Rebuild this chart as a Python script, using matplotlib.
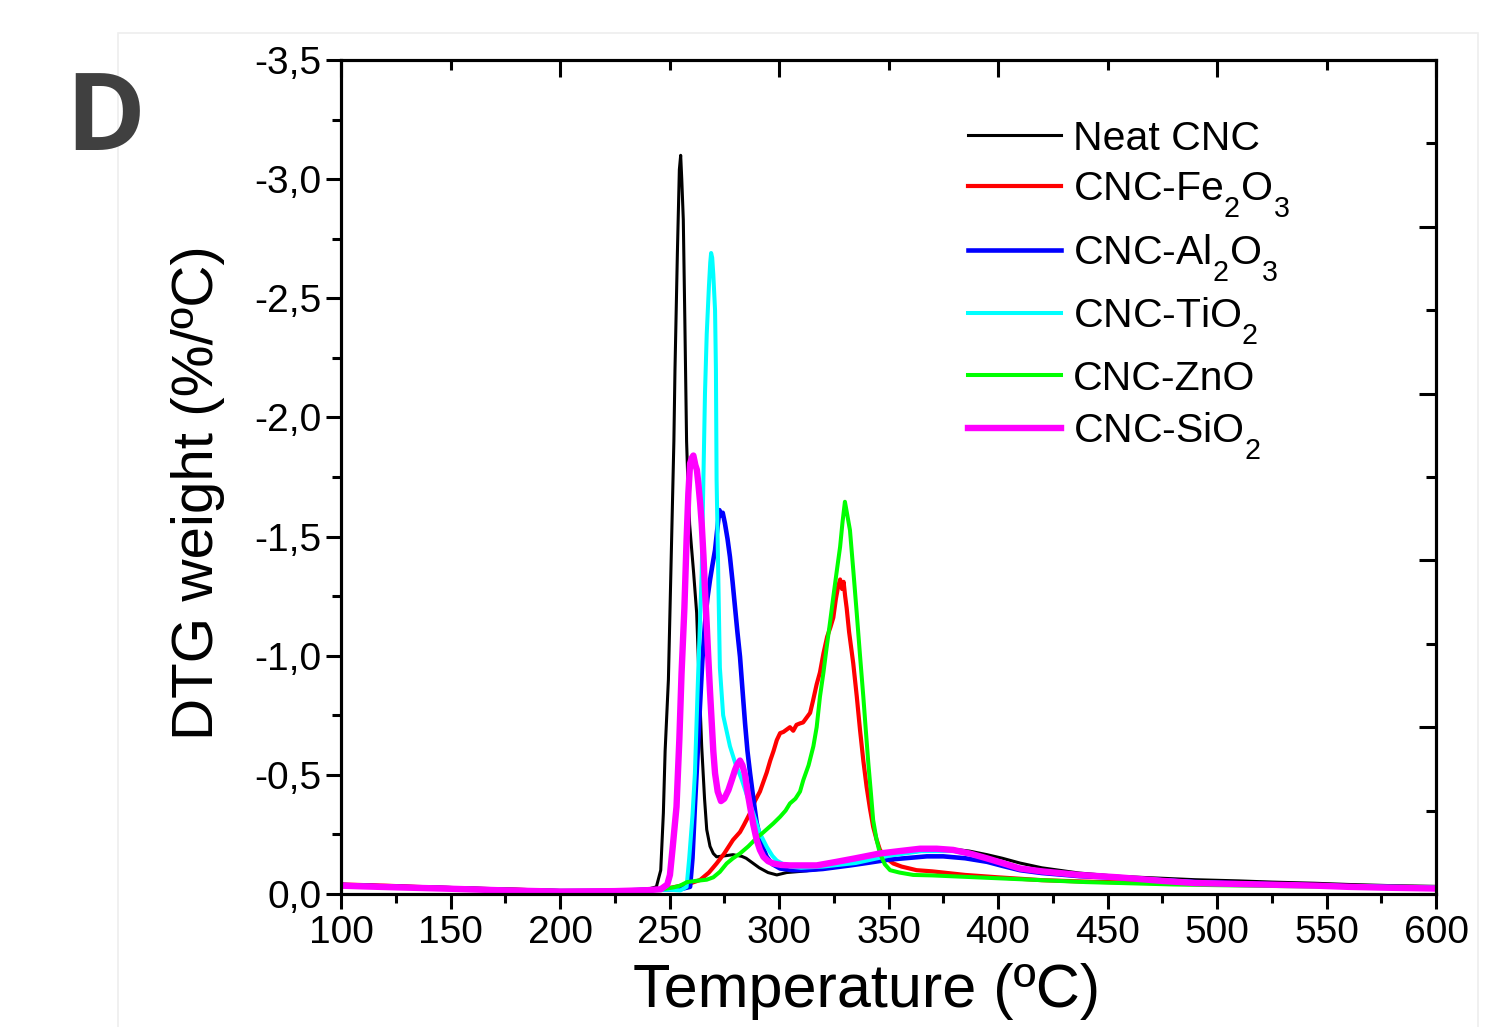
import matplotlib
matplotlib.use("Agg")
import matplotlib.pyplot as plt
import matplotlib._mathtext as _mathtext
from matplotlib.ticker import MultipleLocator, FixedLocator
from matplotlib.patches import Rectangle

plt.rcParams['font.family'] = ['Liberation Sans', 'DejaVu Sans']
plt.rcParams['mathtext.fontset'] = 'custom'
plt.rcParams['mathtext.rm'] = 'Liberation Sans'
plt.rcParams['mathtext.it'] = 'Liberation Sans:italic'
plt.rcParams['mathtext.bf'] = 'Liberation Sans:bold'
# deeper chemical-formula subscripts
_mathtext.FontConstantsBase.sub1 = 0.8
_mathtext.FontConstantsBase.sub2 = 0.9

# ---- data: DTG curves (temperature in ºC, DTG weight in %/ºC) ----
temp_neat = [100, 120, 140, 160, 180, 200, 220, 240, 244, 246, 247.2, 248, 249.5, 251, 252,
             252.5, 253.6, 254.5, 255.1, 255.6, 256.3, 257, 257.8, 258.5, 259.2, 260, 261,
             262.4, 263.5, 264.7, 266, 267, 268.5, 270, 271.5, 275, 279, 283, 285, 288, 291,
             295, 299, 303.5, 310, 320, 330, 340, 350, 360, 370, 378, 387, 395, 402, 410, 420,
             437, 455, 475, 490, 510, 525, 545, 560, 580, 600]
dtg_neat = [-0.04, -0.035, -0.03, -0.025, -0.02, -0.015, -0.015, -0.02, -0.03, -0.1, -0.34, -0.6,
            -0.9, -1.5, -1.9, -2.2, -2.69, -3.04, -3.10, -3.0, -2.83, -2.41, -1.9, -1.7, -1.55,
            -1.46, -1.35, -1.18, -0.9, -0.62, -0.4, -0.27, -0.2, -0.17, -0.156, -0.16, -0.165,
            -0.158, -0.15, -0.13, -0.11, -0.09, -0.08, -0.09, -0.095, -0.105, -0.12, -0.14, -0.16,
            -0.175, -0.185, -0.19, -0.18, -0.165, -0.15, -0.13, -0.11, -0.088, -0.074, -0.066,
            -0.06, -0.055, -0.05, -0.045, -0.04, -0.035, -0.032]

temp_fe = [100, 120, 140, 160, 180, 200, 220, 240, 250, 258, 264, 268, 271.5, 275, 279, 282.2,
           284, 286.8, 289, 291.3, 294.4, 296, 297.5, 299, 300.5, 302, 303.5, 305, 306.5, 308,
           309.6, 311, 312.6, 314.2, 315.5, 317.2, 318.7, 320.3, 322, 323.5, 324.8, 326, 327,
           327.9, 328.8, 329.5, 330.2, 330.9, 332, 333.9, 335.5, 337, 338.5, 340, 341.5, 343,
           344.5, 346.1, 349, 352.2, 356, 362.8, 370, 385, 400, 420, 440, 460, 480, 500, 520,
           540, 560, 580, 600]
dtg_fe = [-0.04, -0.035, -0.028, -0.022, -0.018, -0.012, -0.012, -0.016, -0.025, -0.04, -0.059,
          -0.09, -0.128, -0.17, -0.227, -0.26, -0.29, -0.34, -0.39, -0.43, -0.51, -0.56, -0.6,
          -0.646, -0.675, -0.68, -0.69, -0.70, -0.685, -0.71, -0.716, -0.72, -0.74, -0.76,
          -0.81, -0.88, -0.93, -1.01, -1.08, -1.12, -1.16, -1.24, -1.29, -1.32, -1.28, -1.31,
          -1.25, -1.2, -1.1, -0.968, -0.83, -0.688, -0.56, -0.45, -0.36, -0.282, -0.23, -0.185,
          -0.15, -0.128, -0.115, -0.1, -0.095, -0.08, -0.07, -0.058, -0.052, -0.048, -0.044,
          -0.042, -0.04, -0.038, -0.034, -0.03, -0.028]

temp_al = [100, 125, 150, 175, 200, 225, 240, 255, 259.4, 260.5, 261.6, 262.8, 263.9, 265,
           266.2, 267.3, 268.5, 269.6, 270.8, 271.8, 272.8, 273.6, 274.3, 275.3, 276.5, 277.6,
           278.8, 279.9, 281, 282.2, 283.3, 284.5, 285.6, 286.8, 288.3, 289.8, 292, 294.4, 297,
           300.5, 306, 312.6, 320, 332.5, 340, 350, 360, 367.5, 375, 385, 395, 402, 410, 420,
           437, 455, 470, 490, 510, 530, 550, 575, 600]
dtg_al = [-0.038, -0.03, -0.024, -0.017, -0.012, -0.013, -0.018, -0.02, -0.03, -0.15, -0.366,
          -0.58, -0.786, -0.98, -1.136, -1.24, -1.318, -1.38, -1.444, -1.53, -1.611, -1.59,
          -1.6, -1.556, -1.49, -1.415, -1.31, -1.205, -1.1, -0.995, -0.86, -0.716, -0.6, -0.506,
          -0.4, -0.3, -0.21, -0.156, -0.125, -0.107, -0.1, -0.1, -0.105, -0.12, -0.13, -0.144,
          -0.152, -0.158, -0.158, -0.15, -0.135, -0.118, -0.1, -0.088, -0.075, -0.068, -0.06,
          -0.05, -0.045, -0.04, -0.035, -0.03, -0.026]

temp_ti = [100, 125, 150, 175, 200, 225, 240, 250, 255, 257.8, 259, 260.5, 261.6, 263, 264.7,
           265.5, 266.2, 267, 268, 268.6, 269, 269.5, 270, 270.8, 271.2, 271.5, 272.3, 273,
           274.5, 277.6, 280, 283, 285.5, 288.3, 291, 294.4, 297, 299, 302, 305, 310, 320, 335,
           350, 365, 380, 395, 410, 430, 455, 490, 525, 560, 600]
dtg_ti = [-0.038, -0.03, -0.024, -0.017, -0.012, -0.013, -0.017, -0.018, -0.015, -0.03, -0.15,
          -0.33, -0.506, -0.9, -1.345, -1.75, -2.1, -2.35, -2.55, -2.65, -2.69, -2.67, -2.6,
          -2.45, -2.2, -1.74, -1.32, -0.95, -0.75, -0.62, -0.55, -0.48, -0.41, -0.338, -0.26,
          -0.198, -0.16, -0.14, -0.125, -0.115, -0.11, -0.115, -0.13, -0.16, -0.18, -0.18,
          -0.15, -0.11, -0.085, -0.07, -0.05, -0.04, -0.033, -0.028]

temp_zn = [100, 125, 150, 175, 200, 225, 240, 248, 252, 254.8, 258, 262, 267, 270, 273, 276.1,
           279, 282.2, 286, 289.8, 293, 297.4, 300.5, 303, 305, 307.5, 309.6, 311.1, 313.5,
           315.7, 317.2, 318.7, 320.3, 321.8, 323.3, 324.8, 326.3, 327.9, 329, 330.1, 331,
           332.4, 334, 335.5, 337, 338.5, 339.7, 340.8, 342, 343, 344.5, 346.1, 348.3, 350.7,
           355, 361.3, 370, 385, 400, 420, 440, 460, 480, 500, 530, 560, 600]
dtg_zn = [-0.038, -0.03, -0.024, -0.018, -0.012, -0.013, -0.018, -0.022, -0.028, -0.035, -0.05,
          -0.055, -0.06, -0.07, -0.093, -0.128, -0.15, -0.17, -0.2, -0.235, -0.26, -0.296,
          -0.324, -0.35, -0.38, -0.4, -0.43, -0.478, -0.54, -0.62, -0.7, -0.828, -0.93, -1.038,
          -1.14, -1.247, -1.35, -1.457, -1.56, -1.646, -1.6, -1.527, -1.35, -1.178, -1.0,
          -0.828, -0.68, -0.548, -0.42, -0.31, -0.23, -0.17, -0.125, -0.1, -0.09, -0.08,
          -0.078, -0.072, -0.066, -0.058, -0.05, -0.045, -0.04, -0.037, -0.033, -0.03, -0.026]

temp_si = [100, 110, 125, 150, 175, 200, 225, 240, 246, 249, 250.2, 251.5, 253.2, 254.5, 255.5,
           256.8, 257.8, 258.6, 259.4, 260.2, 260.9, 261.8, 262.5, 263.2, 264, 264.7, 265.5,
           266.2, 267, 267.7, 268.5, 269.3, 270, 270.8, 272, 273.5, 275, 276.9, 278.5, 279.9,
           281, 282.2, 283.3, 284.5, 285.6, 286.8, 288.3, 289.8, 291.3, 292.9, 295, 297.4, 301,
           305, 310, 317.2, 326.3, 335, 346, 355, 364.4, 372, 379.5, 387, 394.8, 402, 410, 420,
           437, 455, 475, 490, 510, 525, 545, 560, 580, 600]
dtg_si = [-0.035, -0.032, -0.028, -0.022, -0.015, -0.01, -0.012, -0.016, -0.02, -0.04, -0.08,
          -0.2, -0.366, -0.65, -0.926, -1.2, -1.486, -1.68, -1.807, -1.83, -1.84, -1.8, -1.78,
          -1.72, -1.64, -1.555, -1.42, -1.276, -1.13, -0.995, -0.85, -0.716, -0.6, -0.506,
          -0.43, -0.39, -0.4, -0.436, -0.48, -0.52, -0.545, -0.56, -0.54, -0.5, -0.43, -0.366,
          -0.29, -0.227, -0.185, -0.156, -0.138, -0.128, -0.122, -0.12, -0.12, -0.12, -0.135,
          -0.15, -0.17, -0.18, -0.19, -0.19, -0.185, -0.17, -0.15, -0.13, -0.107, -0.095,
          -0.08, -0.07, -0.055, -0.046, -0.042, -0.039, -0.035, -0.03, -0.026, -0.023]

series_labels = ['Neat CNC', r'CNC-Fe$_2$O$_3$', r'CNC-Al$_2$O$_3$', r'CNC-TiO$_2$',
                 'CNC-ZnO', r'CNC-SiO$_2$']
series_colors = ['#000000', '#ff0000', '#0000ff', '#00ffff', '#00ff00', '#ff00ff']
series_widths = [2.2, 3.0, 3.3, 2.9, 2.9, 4.6]

x_ticks = [100, 150, 200, 250, 300, 350, 400, 450, 500, 550, 600]
x_tick_labels = ['100', '150', '200', '250', '300', '350', '400', '450', '500', '550', '600']
y_ticks = [0.0, -0.5, -1.0, -1.5, -2.0, -2.5, -3.0, -3.5]
y_tick_labels = ['0,0', '-0,5', '-1,0', '-1,5', '-2,0', '-2,5', '-3,0', '-3,5']

# ---- figure ----
fig = plt.figure(figsize=(15.06, 10.27), dpi=100)
W, H = 1506, 1027
ax = fig.add_axes([341 / W, 1 - 894 / H, (1436 - 341) / W, (894 - 60) / H])

# faint panel outline
fig.patches.append(Rectangle((118 / W, -0.05), (1478 - 118) / W, 1.05 - 33 / H,
                             transform=fig.transFigure, fill=False,
                             edgecolor='#eeeeee', linewidth=1.2, zorder=0))

curves = [(temp_neat, dtg_neat), (temp_fe, dtg_fe), (temp_al, dtg_al),
          (temp_ti, dtg_ti), (temp_zn, dtg_zn), (temp_si, dtg_si)]
for (t, d), lab, col, lw in zip(curves, series_labels, series_colors, series_widths):
    ax.plot(t, d, color=col, lw=lw, label=lab, solid_joinstyle='round')

ax.set_xlim(100, 600)
ax.set_ylim(0, -3.5)

ax.xaxis.set_major_locator(FixedLocator(x_ticks))
ax.set_xticklabels(x_tick_labels)
ax.xaxis.set_minor_locator(MultipleLocator(25))
ax.yaxis.set_major_locator(FixedLocator(y_ticks))
ax.set_yticklabels(y_tick_labels)
ax.yaxis.set_minor_locator(MultipleLocator(0.25))

ax.tick_params(axis='both', which='major', direction='out', length=11, width=2.2,
               labelsize=28, pad=3)
ax.tick_params(axis='both', which='minor', direction='out', length=6.5, width=2.2)
ax.tick_params(axis='x', which='major', pad=4)

for s in ax.spines.values():
    s.set_linewidth(2.2)

# mirrored axes carrying their own inward ticks
ax_top = ax.twiny()
ax_top.set_xlim(100, 600)
ax_top.xaxis.set_major_locator(MultipleLocator(100))
ax_top.xaxis.set_minor_locator(MultipleLocator(50))
ax_top.tick_params(axis='x', which='major', direction='in', length=12, width=2.2,
                   labeltop=False)
ax_top.tick_params(axis='x', which='minor', direction='in', length=7, width=2.2)

ax_right = ax.twinx()
ax_right.set_ylim(0, 10)
ax_right.yaxis.set_major_locator(MultipleLocator(2))
ax_right.yaxis.set_minor_locator(MultipleLocator(1))
ax_right.tick_params(axis='y', which='major', direction='in', length=12, width=2.2,
                     labelright=False)
ax_right.tick_params(axis='y', which='minor', direction='in', length=7, width=2.2)
for a in (ax_top, ax_right):
    for s in a.spines.values():
        s.set_linewidth(2.2)

ax.set_xlabel('Temperature (ºC)', fontsize=44)
ax.xaxis.set_label_coords(0.48, -0.083)
ax.set_ylabel('DTG weight (%/ºC)', fontsize=42)
ax.yaxis.set_label_coords(-0.106, 0.481)

leg = ax.legend(loc='upper left', bbox_to_anchor=(0.558, 0.948), frameon=False,
                fontsize=29.5, handlelength=2.25, handletextpad=0.3, labelspacing=0.3,
                borderaxespad=0)

fig.text(65 / W, 1 - 150 / H, 'D', fontsize=78, fontweight='bold', color='#404040',
         family='Open Sans', ha='left', va='baseline')

fig.savefig('out.png', dpi=100)
